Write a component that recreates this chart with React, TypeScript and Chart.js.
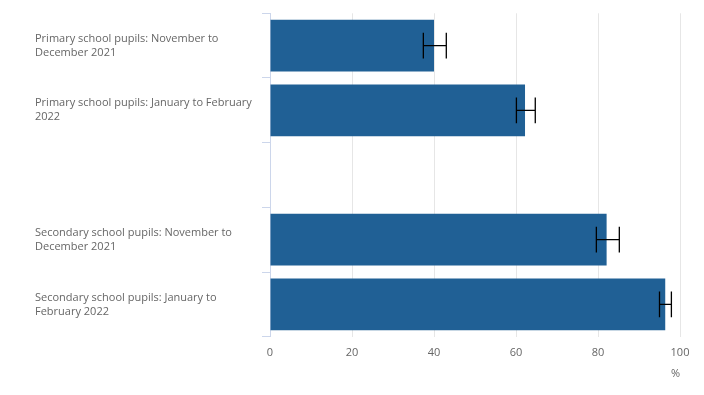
import React, { useEffect, useRef } from "react";
import { Chart, registerables } from "chart.js";

Chart.register(...registerables);

const categories: string[][] = [
  ["Primary school pupils: November to", "December 2021"],
  ["Primary school pupils: January to February", "2022"],
  [""],
  ["Secondary school pupils: November to", "December 2021"],
  ["Secondary school pupils: January to", "February 2022"],
];
const values: (number | null)[] = [40, 62.2, null, 82.1, 96.4];
const errLow: (number | null)[] = [37.4, 60.1, null, 79.6, 95.0];
const errHigh: (number | null)[] = [43.0, 64.7, null, 85.2, 97.9];
const xTicks: number[] = [0, 20, 40, 60, 80, 100];

const FONT = "'Open Sans', 'Noto Sans', sans-serif";

const errorBarsPlugin = {
  id: "errorBars",
  afterDatasetsDraw(chart: any) {
    const meta = chart.getDatasetMeta(0);
    const xs = chart.scales.x;
    const ctx = chart.ctx;
    ctx.save();
    ctx.strokeStyle = "#000000";
    ctx.lineWidth = 1.3;
    meta.data.forEach((el: any, i: number) => {
      const lo = errLow[i];
      const hi = errHigh[i];
      if (lo == null || hi == null) return;
      const { y, height } = el.getProps(["y", "height"], true);
      const x1 = xs.getPixelForValue(lo);
      const x2 = xs.getPixelForValue(hi);
      const cap = height / 4;
      ctx.beginPath();
      ctx.moveTo(x1, y);
      ctx.lineTo(x2, y);
      ctx.moveTo(x1, y - cap);
      ctx.lineTo(x1, y + cap);
      ctx.moveTo(x2, y - cap);
      ctx.lineTo(x2, y + cap);
      ctx.stroke();
    });
    ctx.restore();
  },
};

export default function App() {
  const ref = useRef<HTMLCanvasElement | null>(null);
  useEffect(() => {
    document.body.style.margin = "0";
    if (!ref.current) return;
    const chart = new Chart(ref.current, {
      type: "bar",
      data: {
        labels: categories,
        datasets: [
          {
            data: values,
            backgroundColor: "#206095",
            borderWidth: 0,
            categoryPercentage: 1,
            barPercentage: 0.8,
          },
        ],
      },
      options: {
        indexAxis: "y",
        animation: false,
        responsive: false,
        layout: { padding: { left: 35, top: 13.3, right: 24, bottom: 15 } },
        plugins: {
          legend: { display: false },
          tooltip: { enabled: false },
        },
        scales: {
          x: {
            min: 0,
            max: 100,
            afterBuildTicks: (s: any) => {
              s.ticks = xTicks.map((v) => ({ value: v }));
            },
            afterFit: (s: any) => {
              s.height = 43.3;
            },
            grid: {
              color: (c: any) => (c.index === 0 ? "rgba(0,0,0,0)" : "#e6e6e6"),
              drawTicks: false,
              lineWidth: 1,
            },
            border: { display: false },
            ticks: {
              color: "#666666",
              font: { family: FONT, size: 11 },
              padding: 10,
            },
            title: {
              display: true,
              text: "%",
              align: "end",
              color: "#666666",
              font: { family: FONT, size: 11 },
              padding: { top: 5, bottom: 0 },
            },
          },
          y: {
            afterFit: (s: any) => {
              s.width = 235;
              s.paddingTop = 0;
              s.paddingBottom = 0;
            },
            grid: {
              drawOnChartArea: false,
              drawTicks: true,
              tickLength: 8,
              color: "#ccd6eb",
              offset: true,
            },
            border: { display: true, color: "#ccd6eb" },
            ticks: {
              crossAlign: "far",
              color: "#666666",
              font: { family: FONT, size: 11, lineHeight: 14 / 11 },
            },
          },
        },
      },
      plugins: [errorBarsPlugin],
    } as any);
    return () => chart.destroy();
  }, []);
  return <canvas ref={ref} width={704} height={395} />;
}
